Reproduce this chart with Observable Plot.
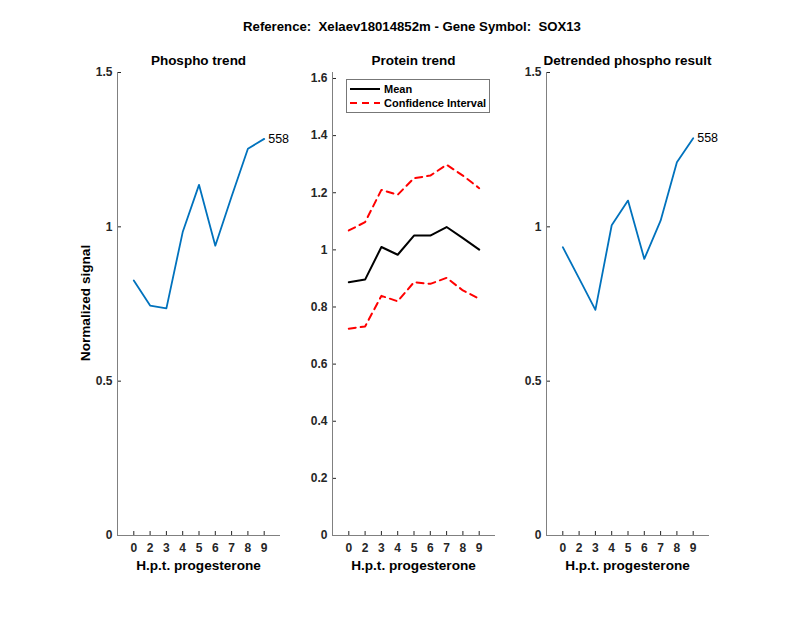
<!DOCTYPE html>
<html><head><meta charset="utf-8">
<script src="https://cdn.jsdelivr.net/npm/d3@7"></script>
<script src="https://cdn.jsdelivr.net/npm/@observablehq/plot@0.6"></script>
<style>
body{margin:0;background:#fff;font-family:"Liberation Sans",Arial,sans-serif;}
#fig{position:relative;width:800px;height:618px;overflow:hidden;background:#fff}
.t{position:absolute;white-space:pre;font-weight:bold;color:#000;transform:translate(-50%,-50%);line-height:1;}
.panel{position:absolute;top:60px}
.panel svg{overflow:visible}
#legend{position:absolute;left:346px;top:79px;width:142px;height:32px;border:1px solid #777;background:#fff}
</style></head><body><div id="fig"></div>
<script>
// ---- data ----
const positions = [1, 2, 3, 4, 5, 6, 7, 8, 9];
const hpt = ["0", "2", "3", "4", "5", "6", "7", "8", "9"];
const phospho = [0.826, 0.745, 0.736, 0.983, 1.136, 0.939, 1.098, 1.253, 1.285];
const proteinMean = [0.887, 0.896, 1.010, 0.983, 1.050, 1.050, 1.080, 1.041, 1.001];
const ciUpper = [1.068, 1.097, 1.210, 1.193, 1.251, 1.260, 1.298, 1.260, 1.216];
const ciLower = [0.724, 0.732, 0.839, 0.820, 0.887, 0.881, 0.902, 0.858, 0.829];
const detrended = [0.934, 0.833, 0.731, 1.005, 1.085, 0.896, 1.020, 1.209, 1.287];
const peptideLabel = "558";
const yTicksPhospho = [0, 0.5, 1, 1.5];
const yTicksProtein = [0, 0.2, 0.4, 0.6, 0.8, 1, 1.2, 1.4, 1.6];
const mainTitle = "Reference:  Xelaev18014852m - Gene Symbol:  SOX13";
const panelTitles = ["Phospho trend", "Protein trend", "Detrended phospho result"];
const xLabel = "H.p.t. progesterone";
const yLabel = "Normalized signal";
const legendLabels = ["Mean", "Confidence Interval"];

const fig = document.getElementById("fig");
const FONT = '"Liberation Sans", Arial, sans-serif';
const ML = 40, MR = 50, MT = 12, MB = 30, AXW = 163, H = 505;

function rows(vals) { return positions.map((p, i) => ({x: p, y: vals[i]})); }

function panel(left, yDomain, yTicks, marks) {
  const p = Plot.plot({
    width: ML + AXW + MR, height: H,
    marginLeft: ML, marginRight: MR, marginTop: MT, marginBottom: MB,
    style: {background: "transparent", fontFamily: FONT, overflow: "visible"},
    x: {domain: [0, 10]},
    y: {domain: yDomain},
    marks: [
      Plot.axisX(positions, {tickFormat: d => hpt[positions.indexOf(d)], tickSize: -4, tickPadding: 12,
        fontSize: 12, fontWeight: "bold", fill: "#262626", stroke: "#262626", label: null}),
      Plot.axisY(yTicks, {tickFormat: d => String(d), tickSize: -4, tickPadding: 9,
        fontSize: 12, fontWeight: "bold", fill: "#262626", stroke: "#262626", label: null}),
      Plot.ruleX([0], {stroke: "#808080", strokeWidth: 1}),
      Plot.ruleY([0], {stroke: "#808080", strokeWidth: 1}),
      ...marks
    ]
  });
  const d = document.createElement("div");
  d.className = "panel";
  d.style.left = (left - ML) + "px";
  d.appendChild(p);
  fig.appendChild(d);
}

const blue = "#0072BD";
const lastP = [{x: positions[8], y: phospho[8]}];
const lastD = [{x: positions[8], y: detrended[8]}];

panel(117, [0, 1.5], yTicksPhospho, [
  Plot.line(rows(phospho), {x: "x", y: "y", stroke: blue, strokeWidth: 1.8}),
  Plot.text(lastP, {x: "x", y: "y", text: () => peptideLabel, dx: 4, textAnchor: "start", fontSize: 12.5, fill: "#000"})
]);
panel(332, [0, 1.621], yTicksProtein, [
  Plot.line(rows(ciUpper), {x: "x", y: "y", stroke: "#FF0000", strokeWidth: 2, strokeDasharray: "7,5"}),
  Plot.line(rows(ciLower), {x: "x", y: "y", stroke: "#FF0000", strokeWidth: 2, strokeDasharray: "7,5"}),
  Plot.line(rows(proteinMean), {x: "x", y: "y", stroke: "#000", strokeWidth: 2})
]);
panel(546, [0, 1.5], yTicksPhospho, [
  Plot.line(rows(detrended), {x: "x", y: "y", stroke: blue, strokeWidth: 1.8}),
  Plot.text(lastD, {x: "x", y: "y", text: () => peptideLabel, dx: 4, textAnchor: "start", fontSize: 12.5, fill: "#000"})
]);

function label(txt, x, y, size, extra) {
  const d = document.createElement("div");
  d.className = "t";
  d.textContent = txt;
  d.style.left = x + "px"; d.style.top = y + "px"; d.style.fontSize = size + "px";
  if (extra) d.style.transform = extra;
  fig.appendChild(d);
}
label(mainTitle, 412, 27, 13.2);
const centers = [117 + AXW / 2, 332 + AXW / 2, 546 + AXW / 2];
panelTitles.forEach((t, i) => label(t, centers[i], 61, 13.5));
centers.forEach(c => label(xLabel, c, 566, 13.6));
label(yLabel, 86, 303, 13.6, "translate(-50%,-50%) rotate(-90deg)");

// legend
const lg = document.createElement("div");
lg.id = "legend";
lg.innerHTML = `<svg width="142" height="32" style="display:block">
  <line x1="3" x2="33" y1="9" y2="9" stroke="#000" stroke-width="2"/>
  <text x="37" y="9" dy="0.35em" font-size="11" font-weight="bold" font-family='${FONT}'>${legendLabels[0]}</text>
  <line x1="3" x2="33" y1="23" y2="23" stroke="#FF0000" stroke-width="2" stroke-dasharray="7,5"/>
  <text x="37" y="23" dy="0.35em" font-size="11" font-weight="bold" font-family='${FONT}'>${legendLabels[1]}</text>
</svg>`;
fig.appendChild(lg);
</script></body></html>
